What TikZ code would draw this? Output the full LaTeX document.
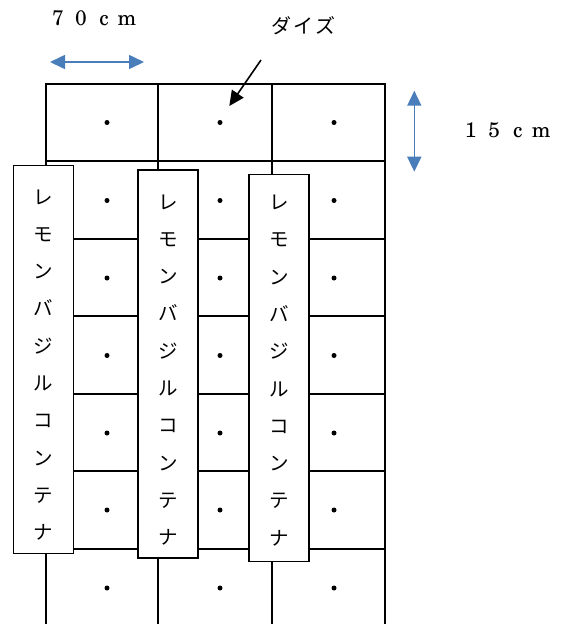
\documentclass[tikz,border=0pt]{standalone}
\usepackage{fontspec}
\newfontfamily\jpfont{Noto Sans CJK JP}
\newfontfamily\labelfont{TeX Gyre Schola}
\usetikzlibrary{arrows.meta}
\definecolor{dimblue}{HTML}{4A7EBB}
% one character centred in a box of fixed width, for evenly spaced labels
\newcommand\pitchbox[2]{\makebox[#1]{#2}}

\begin{document}
\begin{tikzpicture}[x=1pt,y=-1pt,
  gridline/.style={line width=2pt,line cap=rect},
  seed/.style={circle,fill=black,inner sep=0pt,minimum size=5pt},
  container/.style={draw,line width=1.6pt,fill=white,inner sep=0pt,minimum width=60pt},
  boxtext/.style={inner sep=0pt,align=center,font=\jpfont\fontsize{19.5}{37.3}\selectfont},
  measure/.style={draw=dimblue,line width=1.6pt,{Triangle[length=15pt,width=14pt]}-{Triangle[length=15pt,width=14pt]}},
  pointer/.style={draw=black,line width=1.6pt,-{Triangle[length=15pt,width=14pt]}},
  latinlabel/.style={inner sep=0pt,anchor=base,font=\labelfont\fontsize{21}{21}\selectfont}
]
\useasboundingbox (0,0) rectangle (564,624);

% planting grid: three columns of 70 cm, rows of 15 cm
\draw[gridline] (46,624) -- (46,84) -- (385,84) -- (385,624);
\foreach \x in {158,272}
  \draw[gridline] (\x,84) -- (\x,624);
\foreach \y in {161,239,316,394,471,549}
  \draw[gridline] (46,\y) -- (385,\y);

% seed positions
\foreach \y [count=\r] in {122.5,200.5,278,355.5,433,510,588}
  \foreach \x [count=\c] in {107,220,334}
    \node[seed] (seed-\r-\c) at (\x,\y) {};

% containers laid over the grid
\node[container,minimum height=388pt] (box1) at (43.5,359.5) {};
\node[container,minimum height=388pt] (box2) at (168,363.7) {};
\node[container,minimum height=387pt] (box3) at (279,368) {};
\node[boxtext] (text1) at (43.5,365) {レ\\モ\\ン\\バ\\ジ\\ル\\コ\\ン\\テ\\ナ};
\node[boxtext] (text2) at (168,370) {レ\\モ\\ン\\バ\\ジ\\ル\\コ\\ン\\テ\\ナ};
\node[boxtext] (text3) at (279,370.5) {レ\\モ\\ン\\バ\\ジ\\ル\\コ\\ン\\テ\\ナ};

% column width
\node[latinlabel] (width-label) at (92.5,25)
  {\pitchbox{23pt}{7}\pitchbox{23pt}{0}\pitchbox{23pt}{c}\pitchbox{23pt}{m}};
\coordinate (width-l) at (50,62);
\coordinate (width-r) at (144,62);
\draw[measure] (width-l) -- (width-r);

% row height
\node[latinlabel] (height-label) at (506,137)
  {\pitchbox{23.5pt}{1}\pitchbox{23.5pt}{5}\pitchbox{23.5pt}{c}\pitchbox{23.5pt}{m}};
\coordinate (height-t) at (414.3,90.7);
\coordinate (height-b) at (414.3,171.7);
\draw[measure] (height-t) -- (height-b);

% soybean label and pointer
\node[inner sep=0pt,font=\jpfont\fontsize{20}{20}\selectfont] (soy-label) at (303.5,26)
  {\pitchbox{22pt}{ダ}\pitchbox{22pt}{イ}\pitchbox{22pt}{ズ}};
\coordinate (soy-from) at (261,60);
\coordinate (soy-to) at (229.3,106);
\draw[pointer] (soy-from) -- (soy-to);
\end{tikzpicture}
\end{document}
